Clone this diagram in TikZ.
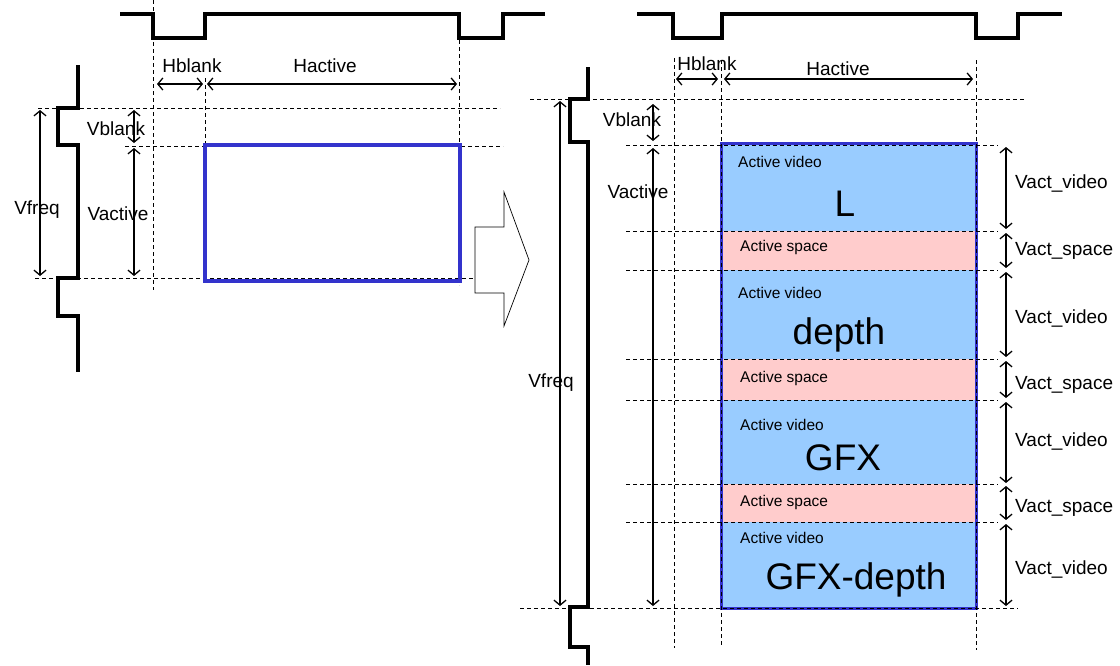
\documentclass[tikz,border=0pt]{standalone}
\usepackage{fontspec}
\setmainfont{Liberation Sans}
\usetikzlibrary{arrows.meta}
\definecolor{FrameBlue}{HTML}{3333CC}
\definecolor{VideoBlue}{HTML}{99CCFF}
\definecolor{SpacePink}{HTML}{FFCCCC}
\tikzset{
  sync/.style={line width=3.5pt, line join=miter},
  guide/.style={dash pattern=on 4pt off 3pt, line width=1pt},
  dim/.style={{Straight Barb[length=5pt,width=12pt]}-{Straight Barb[length=5pt,width=12pt]}, line width=1.3pt},
  lbl/.style={font=\fontsize{19}{21}\selectfont, inner sep=0pt},
  small/.style={font=\fontsize{15.5}{17}\selectfont, inner sep=0pt, anchor=west},
  big/.style={font=\fontsize{37}{40}\selectfont, inner sep=0pt},
}

\begin{document}
\begin{tikzpicture}[x=1pt, y=-1pt]
\useasboundingbox (0,0) rectangle (1120,665);

% Left: sync waveforms
\draw[sync] (120,14) -- (153,14) -- (153,38) -- (205,38) -- (205,14) -- (459,14) -- (459,38) -- (503,38) -- (503,14) -- (545,14);
\draw[sync] (78,65) -- (78,108) -- (58,108) -- (58,145) -- (78,145) -- (78,278) -- (58,278) -- (58,316) -- (78,316) -- (78,372);

% Left: guide lines
\draw[guide] (153,0) -- (153,290);
\draw[guide] (205,78) -- (205,143);
\draw[guide] (459,40) -- (459,285);
\draw[guide] (38,108) -- (500,108);
\draw[guide] (125,146) -- (503,146);
\draw[guide] (35,278) -- (474,278);

% Left: frame
\draw[FrameBlue, line width=4pt] (205,145) rectangle (460,281);

% Left: dimensions
\draw[dim] (157,84) -- (203,84);
\draw[dim] (207,84) -- (457,84);
\draw[dim] (40,110) -- (40,276);
\draw[dim] (134,110) -- (134,143);
\draw[dim] (134,148) -- (134,276);
\node[lbl] (hblankA) at (192,66) {Hblank};
\node[lbl] (hactiveA) at (325,66) {Hactive};
\node[lbl] (vfreqA) at (37,210) {Vfreq};
\node[lbl] (vblankA) at (116,129) {Vblank};
\node[lbl] (vactiveA) at (118,214) {Vactive};

% Big arrow
\draw[line width=0.7pt] (475,227) -- (504,227) -- (504,192) -- (529,260) -- (504,326) -- (504,293) -- (475,293) -- cycle;

% Right: bands
\foreach \top/\bot/\col in {
  143/231/VideoBlue,
  231/270/SpacePink,
  270/359/VideoBlue,
  359/400/SpacePink,
  400/484/VideoBlue,
  484/522/SpacePink,
  522/608/VideoBlue}
{
  \fill[\col] (721,\top) rectangle (976,\bot);
}
\draw[FrameBlue, line width=3pt] (721,143) rectangle (976,608);

% Right: sync waveforms
\draw[sync] (637,14) -- (673,14) -- (673,38) -- (722,38) -- (722,14) -- (976,14) -- (976,38) -- (1018,38) -- (1018,14) -- (1062,14);
\draw[sync] (588,67) -- (588,99) -- (570,99) -- (570,142) -- (588,142) -- (588,607) -- (570,607) -- (570,647) -- (588,647) -- (588,665);

% Right: guide lines
\draw[guide] (674,58) -- (674,648);
\draw[guide] (721,60) -- (721,646);
\draw[guide] (976,60) -- (976,650);
\draw[guide] (530,99) -- (1026,99);
\draw[guide] (520,608) -- (1018,608);
\foreach \y in {145,231,270,359,400,484,522}
  \draw[guide] (626,\y) -- (998,\y);

% Right: dimensions
\draw[dim] (676,79) -- (718,79);
\draw[dim] (724,79) -- (973,79);
\draw[dim] (560,101) -- (560,606);
\draw[dim] (653,104) -- (653,141);
\draw[dim] (653,148) -- (653,606);
\node[lbl] (hblankB) at (707,64) {Hblank};
\node[lbl] (hactiveB) at (838,69) {Hactive};
\node[lbl] (vblankB) at (632,120) {Vblank};
\node[lbl] (vactiveB) at (638,192) {Vactive};
\node[lbl] (vfreqB) at (551,383) {Vfreq};

\foreach \a/\b/\ly/\txt [count=\i] in {
  147/229/183/Vact\_video,
  233/268/251/Vact\_space,
  272/357/318/Vact\_video,
  361/398/385/Vact\_space,
  402/483/441/Vact\_video,
  486/520/508/Vact\_space,
  524/606/569/Vact\_video}
{
  \draw[dim] (1006,\a) -- (1006,\b);
  \node[lbl, anchor=west] (vact\i) at (1015,\ly) {\txt};
}

% Band texts
\node[small] (vid1) at (738,162) {Active video};
\node[big] (nameL) at (845,204) {L};
\node[small] (spc1) at (740,247) {Active space};
\node[small] (vid2) at (738,293) {Active video};
\node[big] (nameD) at (839,335) {depth};
\node[small] (spc2) at (740,378) {Active space};
\node[small] (vid3) at (740,425) {Active video};
\node[big] (nameG) at (843,458) {GFX};
\node[small] (spc3) at (740,502) {Active space};
\node[small] (vid4) at (740,538) {Active video};
\node[big] (nameGD) at (856,580) {GFX-depth};
\end{tikzpicture}
\end{document}
